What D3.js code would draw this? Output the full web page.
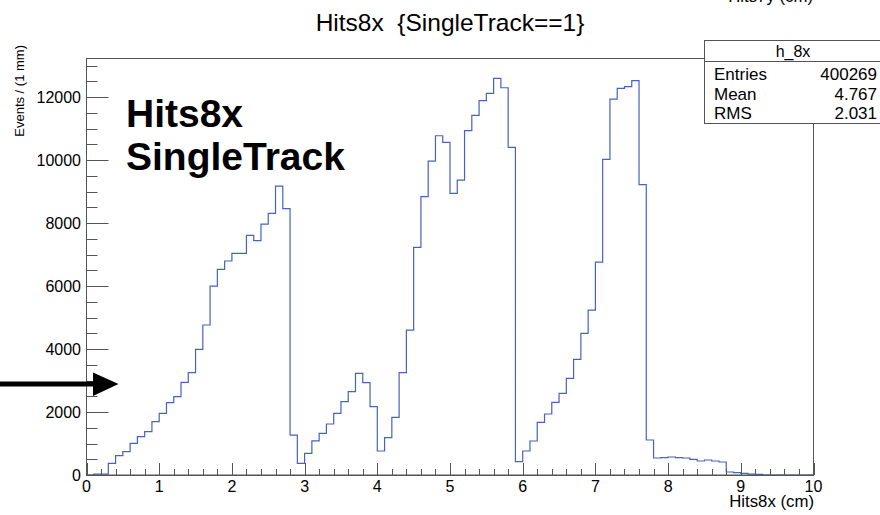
<!DOCTYPE html>
<html>
<head>
<meta charset="utf-8">
<script src="https://cdn.jsdelivr.net/npm/d3@7"></script>
<style>
  body { margin: 0; background: #fff; }
  text { font-family: "Liberation Sans", Arial, sans-serif; fill: #000; white-space: pre; }
</style>
</head>
<body>
<div id="chart"></div>
<script>
// histogram h_8x : 100 bins of 1 mm from 0 to 10 cm
var xMin = 0, xMax = 10, binWidth = 0.1;
var counts = [
  0, 30, 30, 371, 614, 741, 1005, 1217, 1376, 1693,
  1958, 2296, 2487, 2942, 3249, 3989, 4762, 6000, 6529, 6794,
  7037, 7037, 7608, 7439, 7968, 8307, 9175, 8455, 1265, 371,
  688, 1085, 1323, 1619, 1958, 2328, 2646, 3228, 2931, 2169,
  762, 1185, 1831, 3249, 4603, 7228, 8836, 9968, 10772, 10561,
  8942, 9365, 10931, 11418, 11884, 12116, 12593, 12296, 10402, 423,
  762, 1079, 1672, 1937, 2307, 2593, 3069, 3672, 4497, 5238,
  6762, 10021, 11937, 12275, 12328, 12519, 9217, 1111, 540, 550,
  571, 550, 540, 497, 444, 476, 444, 413, 95, 75,
  53, 30, 20, 0, 0, 0, 0, 0, 0, 0
];
var yMajorTicks = [0, 2000, 4000, 6000, 8000, 10000, 12000];
var xMajorTicks = [0, 1, 2, 3, 4, 5, 6, 7, 8, 9, 10];

var statsName = "h_8x";
var statsLabels = ["Entries", "Mean", "RMS"];
var statsValues = ["400269", "4.767", "2.031"];

var width = 880, height = 515;
var frame = { left: 86.5, right: 813.5, top: 58, bottom: 475 };
var axisColor = "#555";
var histColor = "#4563c2";

var svg = d3.select("#chart")
    .append("svg")
    .attr("width", width)
    .attr("height", height);

var x = d3.scaleLinear()
    .domain([xMin, xMax])
    .range([frame.left, frame.right]);

var y = d3.scaleLinear()
    .domain([0, 13240])
    .range([frame.bottom, frame.top]);

// the histogram outline (drawn first, frame goes on top)
var pts = counts.map(function (c, i) { return [xMin + i * binWidth, c]; });
pts.push([xMax, counts[counts.length - 1]]);

svg.append("path")
    .datum(pts)
    .attr("fill", "none")
    .attr("stroke", histColor)
    .attr("stroke-width", 1.2)
    .attr("d", d3.line()
        .curve(d3.curveStepAfter)
        .x(function (d) { return x(d[0]); })
        .y(function (d) { return y(d[1]); })
    );

// frame
svg.append("rect")
    .attr("x", frame.left)
    .attr("y", frame.top + 0.5)
    .attr("width", frame.right - frame.left)
    .attr("height", frame.bottom - frame.top)
    .attr("fill", "none")
    .attr("stroke", axisColor)
    .attr("stroke-width", 1);
// bottom axis line covers the empty bins
svg.append("line")
    .attr("x1", frame.left).attr("x2", frame.right)
    .attr("y1", frame.bottom + 0.2).attr("y2", frame.bottom + 0.2)
    .attr("stroke", axisColor)
    .attr("stroke-width", 1.6);

// y axis ticks (major + minor every 500)
var yMinor = d3.range(0, 13001, 500);
svg.append("g")
    .selectAll("line")
    .data(yMinor)
    .enter()
    .append("line")
    .attr("x1", frame.left)
    .attr("x2", function (d) { return frame.left + (d % 2000 === 0 ? 22 : 11); })
    .attr("y1", function (d) { return Math.round(y(d)) + 0.5; })
    .attr("y2", function (d) { return Math.round(y(d)) + 0.5; })
    .attr("stroke", axisColor);

svg.append("g")
    .selectAll("text")
    .data(yMajorTicks)
    .enter()
    .append("text")
    .attr("x", 81)
    .attr("y", function (d) { return y(d); })
    .attr("dy", "0.36em")
    .attr("text-anchor", "end")
    .style("font-size", "16px")
    .text(function (d) { return d; });

// x axis ticks (major + minor every 0.2)
var xMinor = d3.range(0, 51).map(function (i) { return i / 5; });
svg.append("g")
    .selectAll("line")
    .data(xMinor)
    .enter()
    .append("line")
    .attr("x1", function (d) { return Math.round(x(d)) + 0.5; })
    .attr("x2", function (d) { return Math.round(x(d)) + 0.5; })
    .attr("y1", frame.bottom)
    .attr("y2", function (d, i) { return frame.bottom - (i % 5 === 0 ? 12 : 6); })
    .attr("stroke", axisColor);

svg.append("g")
    .selectAll("text")
    .data(xMajorTicks)
    .enter()
    .append("text")
    .attr("x", function (d) { return x(d); })
    .attr("y", 492)
    .attr("text-anchor", "middle")
    .style("font-size", "16px")
    .text(function (d) { return d; });

// titles
svg.append("text")
    .attr("x", 450)
    .attr("y", 31)
    .attr("text-anchor", "middle")
    .style("font-size", "24.5px")
    .text("Hits8x  {SingleTrack==1}");

svg.append("text")
    .attr("x", 813)
    .attr("y", 2)
    .attr("text-anchor", "end")
    .style("font-size", "16.8px")
    .text("Hits7y (cm)");

svg.append("text")
    .attr("x", 814)
    .attr("y", 507)
    .attr("text-anchor", "end")
    .style("font-size", "16.8px")
    .text("Hits8x (cm)");

svg.append("text")
    .attr("transform", "translate(24,45) rotate(-90)")
    .attr("text-anchor", "end")
    .style("font-size", "13px")
    .text("Events / (1 mm)");

// big bold labels
svg.append("text")
    .attr("x", 126)
    .attr("y", 127)
    .style("font-size", "39px")
    .style("font-weight", "bold")
    .text("Hits8x");

svg.append("text")
    .attr("x", 126)
    .attr("y", 170)
    .style("font-size", "39px")
    .style("font-weight", "bold")
    .text("SingleTrack");

// arrow
svg.append("line")
    .attr("x1", 0).attr("x2", 95)
    .attr("y1", 384).attr("y2", 384)
    .attr("stroke", "#000")
    .attr("stroke-width", 5);
svg.append("path")
    .attr("d", "M93,372.5L118.5,384L93,396Z")
    .attr("fill", "#000");

// stats box
var stats = svg.append("g");
stats.append("rect")
    .attr("x", 704.5).attr("y", 40.5)
    .attr("width", 177).attr("height", 83)
    .attr("fill", "#fff")
    .attr("stroke", axisColor);
stats.append("line")
    .attr("x1", 704.5).attr("x2", 881)
    .attr("y1", 61.5).attr("y2", 61.5)
    .attr("stroke", axisColor);
stats.append("text")
    .attr("x", 793).attr("y", 57)
    .attr("text-anchor", "middle")
    .style("font-size", "16px")
    .text(statsName);
stats.selectAll(".lab")
    .data(statsLabels)
    .enter()
    .append("text")
    .attr("x", 714)
    .attr("y", function (d, i) { return 80 + i * 19.5; })
    .style("font-size", "17px")
    .text(function (d) { return d; });
stats.selectAll(".val")
    .data(statsValues)
    .enter()
    .append("text")
    .attr("x", 877)
    .attr("y", function (d, i) { return 80 + i * 19.5; })
    .attr("text-anchor", "end")
    .style("font-size", "17px")
    .text(function (d) { return d; });
</script>
</body>
</html>
